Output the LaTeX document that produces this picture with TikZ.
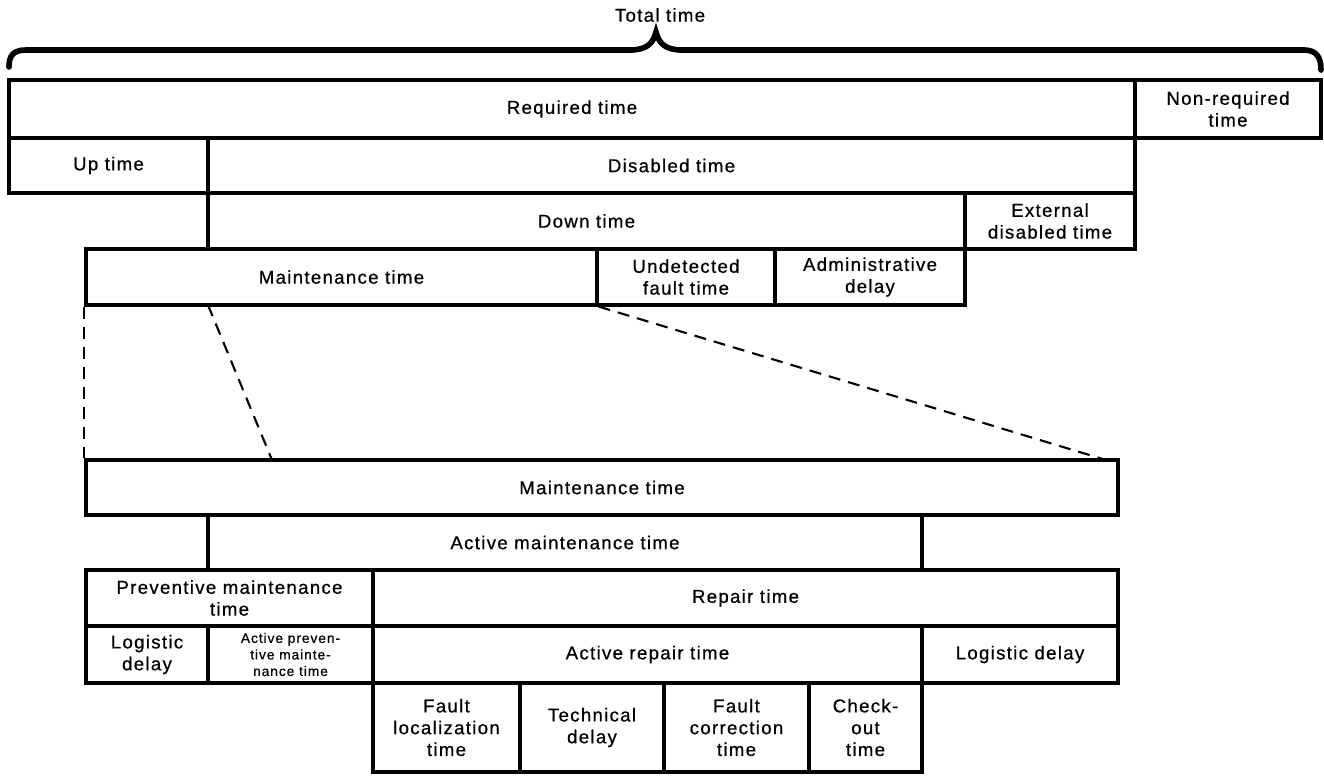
\documentclass[tikz,border=0pt]{standalone}
\usepackage{fontspec}
\setmainfont{Liberation Sans}[LetterSpace=7,FakeBold=0.6]
\begin{document}
\begin{tikzpicture}[x=0.01cm,y=-0.01cm,
  txt/.style={font=\fontsize{5.3}{6.2}\selectfont, align=center, inner sep=0pt},
  box/.style={txt, draw, line width=0.9pt},
  smalltxt/.style={font=\fontsize{3.9}{4.7}\selectfont},
  dline/.style={line width=0.6pt, dash pattern=on 3.4pt off 2.3pt},
  bracest/.style={line width=1.6pt, line cap=round}
]
\newcommand\tbox[7][]{\node[box,#1,minimum width={(#5-#3)*0.01cm},minimum height={(#6-#4)*0.01cm}] (#2) at ({(#3+#5)/2},{(#4+#6)/2+1}) {#7};}
\useasboundingbox (0,0) rectangle (1324,775);
\node[txt] (total) at (660,15) {Total time};
\draw[bracest] (9,67) .. controls (9,56) and (13,50) .. (26,50) -- (630,50)
  .. controls (646,50) and (653,44) .. (656,32)
  .. controls (659,44) and (666,50) .. (682,50) -- (1304,50)
  .. controls (1317,50) and (1321,58) .. (1321,70);

\tbox{req}{9}{79}{1135}{137}{Required time}
\tbox{nonreq}{1135}{79}{1321}{137}{Non-required\\time}
\tbox{up}{9}{137}{208}{192}{Up time}
\tbox{dis}{208}{137}{1135}{192}{Disabled time}
\tbox{down}{208}{192}{965}{248}{Down time}
\tbox{ext}{965}{192}{1135}{248}{External\\disabled time}
\tbox{mt1}{86}{248}{597}{304}{Maintenance time}
\tbox{undet}{597}{248}{775}{304}{Undetected\\fault time}
\tbox{adm}{775}{248}{965}{304}{Administrative\\delay}

\tbox{mt2}{86}{459}{1118}{514}{Maintenance time}
\tbox{act}{208}{514}{922}{569}{Active maintenance time}
\tbox{prev}{86}{569}{373}{625}{Preventive maintenance\\time}
\tbox{rep}{373}{569}{1118}{625}{Repair time}
\tbox{log1}{86}{625}{208}{682}{Logistic\\delay}
\tbox[smalltxt]{actprev}{208}{625}{373}{682}{Active preven-\\tive mainte-\\nance time}
\tbox{actrep}{373}{625}{922}{682}{Active repair time}
\tbox{log2}{922}{625}{1118}{682}{Logistic delay}
\tbox{floc}{373}{682}{520}{771}{Fault\\localization\\time}
\tbox{tech}{520}{682}{664}{771}{Technical\\delay}
\tbox{fcorr}{664}{682}{809}{771}{Fault\\correction\\time}
\tbox{chk}{809}{682}{922}{771}{Check-\\out\\time}

\coordinate (a1) at (208,305);
\coordinate (a2) at (272,460);
\coordinate (b2) at (1106,460);
\draw[dline] (mt1.south west) -- (mt2.north west);
\draw[dline] (a1) -- (a2);
\draw[dline] (mt1.south east) -- (b2);
\end{tikzpicture}
\end{document}
